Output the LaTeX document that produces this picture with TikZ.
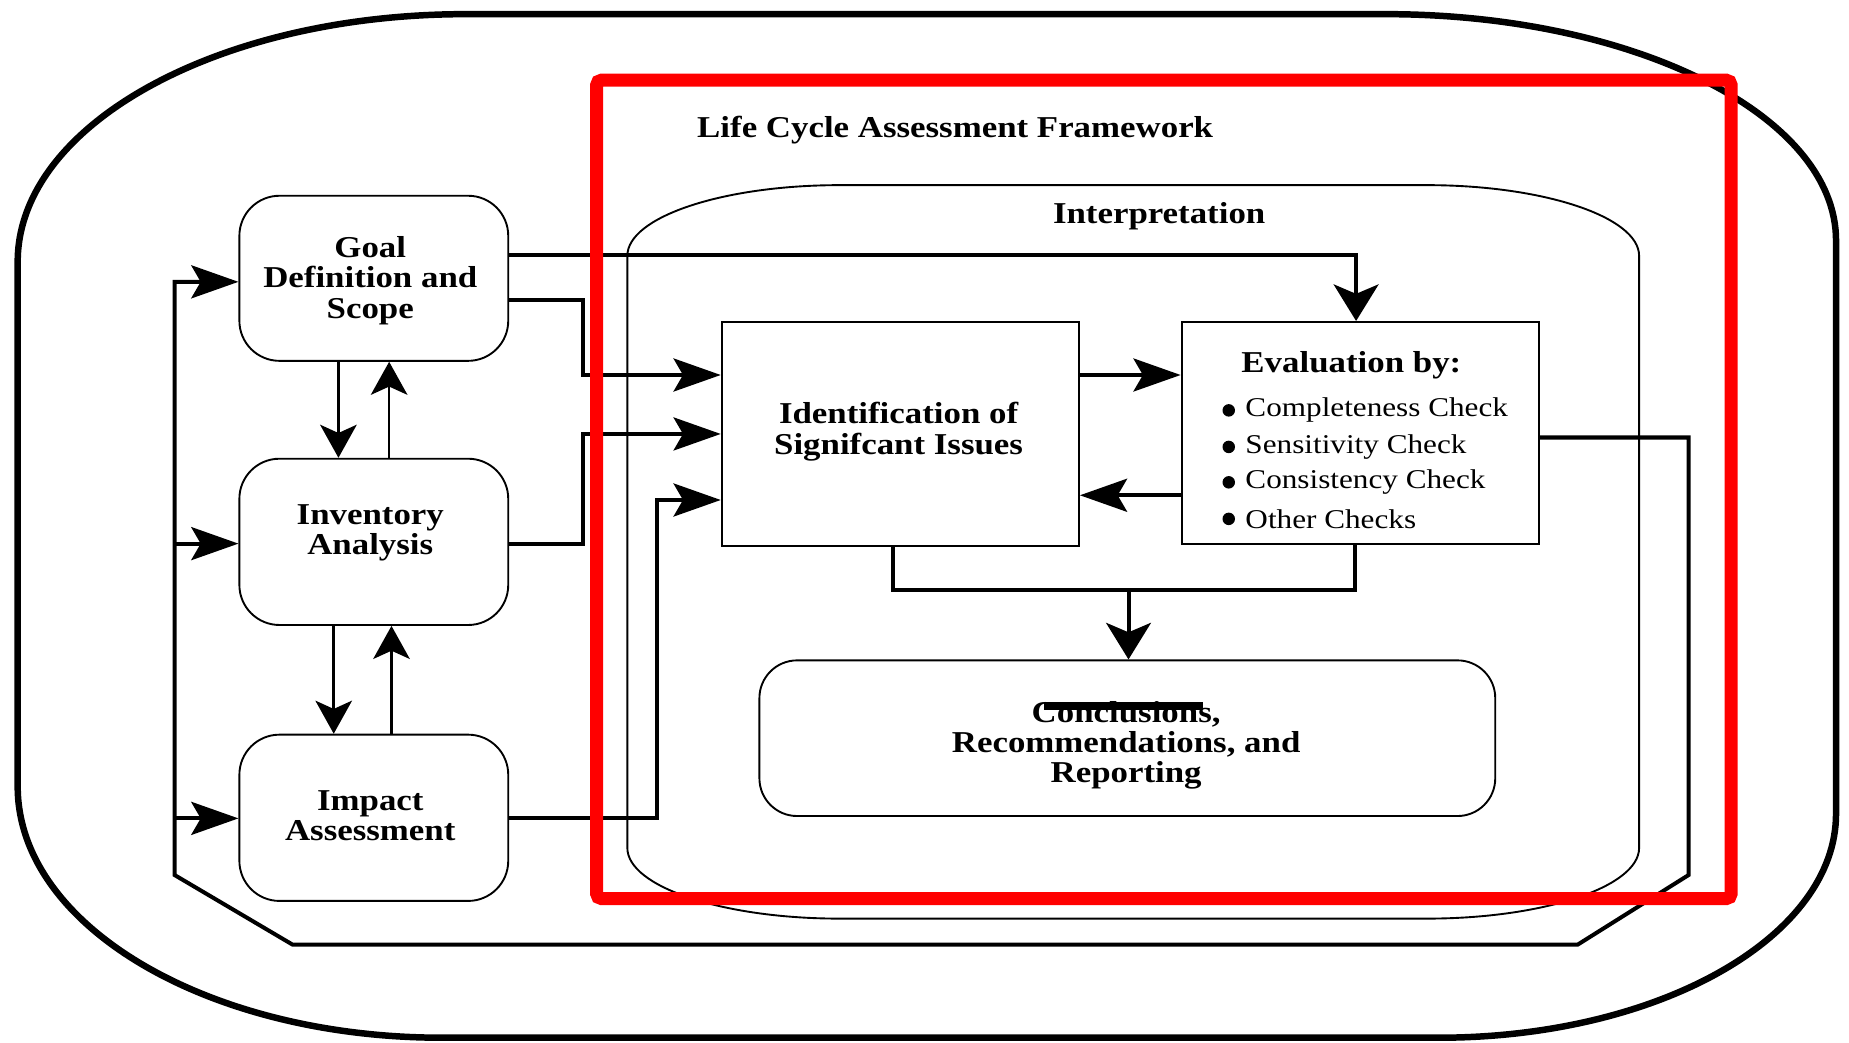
\documentclass[tikz,border=0pt]{standalone}
\usepackage{fontspec}
\setmainfont{Liberation Serif}[FakeStretch=1.15]
\usetikzlibrary{arrows.meta}

\begin{document}
\begin{tikzpicture}[x=1pt, y=-1pt,
  lbl/.style={font=\fontsize{25.7}{25.5}\selectfont\bfseries, align=center, inner sep=0pt},
  chk/.style={font=\fontsize{23}{26}\selectfont, anchor=west, inner sep=0pt},
  rbox/.style={draw, line width=1.6pt, rounded corners=34pt, inner sep=0pt},
  sbox/.style={draw, line width=1.6pt, inner sep=0pt},
  conn/.style={line width=3.4pt},
  slim/.style={line width=2.2pt},
  toh/.style={-{Stealth[length=40pt,width=28pt,inset=8pt]}},
  tov/.style={-{Stealth[length=31pt,width=38pt,inset=8pt]}},
  tos/.style={-{Stealth[length=28pt,width=31pt,inset=7pt]}},
]
\useasboundingbox (0,0) rectangle (1568,884);
\fill[white] (0,0) rectangle (1568,884);

% outer frame with wide elliptical corners
\draw[line width=5.5pt] (15,222) .. controls (15,106) and (185,12) .. (395,12)
  -- (1175,12) .. controls (1386,12) and (1557,98) .. (1557,204)
  -- (1557,690) .. controls (1557,795) and (1406,880) .. (1220,880)
  -- (375,880) .. controls (176,880) and (15,785) .. (15,667) -- cycle;

% interpretation enclosure
\draw[line width=1.6pt] (532,217) .. controls (532,184) and (613,157) .. (712,157)
  -- (1210,157) .. controls (1309,157) and (1390,184) .. (1390,217)
  -- (1390,719) .. controls (1390,752) and (1309,779) .. (1210,779)
  -- (712,779) .. controls (613,779) and (532,752) .. (532,719) -- cycle;

% phase boxes
\node[rbox, minimum width=228pt, minimum height=140pt] (goal) at (317,236) {};
\node[rbox, minimum width=228pt, minimum height=141pt] (inv) at (317,459.5) {};
\node[rbox, minimum width=228pt, minimum height=141pt] (imp) at (317,693.5) {};
\node[sbox, minimum width=303pt, minimum height=190pt] (idb) at (763.5,368) {};
\node[sbox, minimum width=303pt, minimum height=188pt] (eval) at (1153.5,367) {};
\node[rbox, rounded corners=32pt, minimum width=624pt, minimum height=132pt] (concl) at (956,626) {};

% labels
\node[lbl] (ttl) at (810,110) {Life Cycle Assessment Framework};
\node[lbl] (interp) at (983,183) {Interpretation};
\node[lbl] (goaltx) at (314,238) {Goal\\Definition and\\Scope};
\node[lbl] (invtx) at (314,452) {Inventory\\Analysis};
\node[lbl] (imptx) at (314,692) {Impact\\Assessment};
\node[lbl, font=\fontsize{25.7}{27}\selectfont\bfseries] (idtx) at (762,366) {Identification of\\Signifcant Issues};
\node[lbl] (evtx) at (1146,310) {Evaluation by:};
\node[lbl] (conctx) at (955,632) {Conclusions,\\Recommendations, and\\Reporting};
\fill (885,595) rectangle (1020,602);

% checklist
\foreach \yy/\tx [count=\i] in {348/Completeness Check, 379/Sensitivity Check, 409/Consistency Check, 440/Other Checks} {
  \fill (1042,\yy) circle[radius=5.3pt];
  \node[chk] (chk\i) at (1056,\yy) {\tx};
}

% goal -> evaluation
\coordinate (ja) at (1150,216);
\draw[conn, tov] (goal.east |- ja) -- (ja) -- (ja |- eval.north);

% phases -> identification
\coordinate (jb1) at (494,254); \coordinate (jb2) at (494,318);
\draw[conn, toh] (goal.east |- jb1) -- (jb1) -- (jb2) -- (idb.west |- jb2);
\coordinate (jc1) at (494,461); \coordinate (jc2) at (494,368);
\draw[conn, toh] (inv.east |- jc1) -- (jc1) -- (jc2) -- (idb.west |- jc2);
\coordinate (jd1) at (557,694); \coordinate (jd2) at (557,424);
\draw[conn, toh] (imp.east |- jd1) -- (jd1) -- (jd2) -- (idb.west |- jd2);

% identification <-> evaluation
\coordinate (je) at (958,318);
\draw[conn, toh] (idb.east |- je) -- (eval.west |- je);
\coordinate (jf) at (958,420);
\draw[conn, toh] (eval.west |- jf) -- (idb.east |- jf);

% both feed the conclusions
\coordinate (jg1) at (757,500); \coordinate (jg2) at (1149,500); \coordinate (jg3) at (957,500);
\draw[conn] (jg1 |- idb.south) -- (jg1) -- (jg2) -- (jg2 |- eval.south);
\draw[conn, tov] (jg3) -- (jg3 |- concl.north);

% feedback loop back to the phases
\coordinate (k1) at (1432,371); \coordinate (k2) at (1432,742);
\coordinate (k3) at (1338,801); \coordinate (k4) at (248,801);
\coordinate (k5) at (148,742);  \coordinate (k6) at (148,239);
\draw[conn, toh] (eval.east |- k1) -- (k1) -- (k2) -- (k3) -- (k4) -- (k5) -- (k6) -- (goal.west |- k6);
\coordinate (k7) at (148,461); \coordinate (k8) at (148,694);
\draw[conn, toh] (k7) -- (inv.west |- k7);
\draw[conn, toh] (k8) -- (imp.west |- k8);

% iteration between phases
\draw[slim, tos] (goal.south -| 287,0) -- (inv.north -| 287,0);
\draw[slim, tos] (inv.north -| 330,0) -- (goal.south -| 330,0);
\draw[slim, tos] (inv.south -| 283,0) -- (imp.north -| 283,0);
\draw[slim, tos] (imp.north -| 332,0) -- (inv.south -| 332,0);

% highlight frame
\draw[red, line width=11pt, rounded corners=4pt] (506,68) rectangle (1468,762);
\end{tikzpicture}
\end{document}
